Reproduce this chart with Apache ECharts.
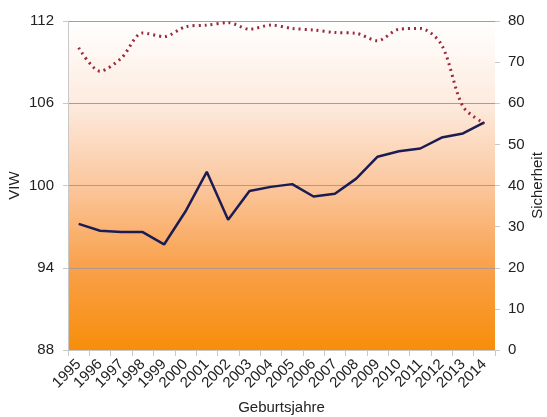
<!DOCTYPE html>
<html><head><meta charset="utf-8">
<script src="https://cdn.jsdelivr.net/npm/echarts@6/dist/echarts.min.js"></script>
<style>html,body{margin:0;padding:0;background:#fff}#c{width:547px;height:417px}</style>
</head><body><div id="c"></div>
<script>
const years = ['1995','1996','1997','1998','1999','2000','2001','2002','2003','2004','2005','2006','2007','2008','2009','2010','2011','2012','2013','2014'];
const viw = [97.2,96.7,96.6,96.6,95.7,98.1,101.0,97.5,99.6,99.9,100.1,99.2,99.4,100.5,102.1,102.5,102.7,103.5,103.8,104.6];
const sicherheit = [73.5,67.8,71.0,77.1,76.2,78.6,79.0,79.6,78.0,79.0,78.2,77.8,77.2,77.0,75.2,78.0,78.2,74.2,59.2,55.1];
const font = 'Liberation Sans, Arial, sans-serif';
const chart = echarts.init(document.getElementById('c'));
chart.setOption({
  animation:false,
  grid:{left:68,right:52,top:21,bottom:67,show:true,borderWidth:0,containLabel:false,outerBoundsMode:'none',
    backgroundColor:{type:'linear',x:0,y:0,x2:0,y2:1,colorStops:[
      {offset:0,color:'#ffffff'},{offset:0.25,color:'#fdebdf'},{offset:0.5,color:'#fbc79e'},
      {offset:0.75,color:'#f9a04a'},{offset:1,color:'#f78e0a'}]}},
  xAxis:{type:'category',data:years,boundaryGap:true,
    axisLine:{show:true,lineStyle:{color:'#c8c8c8'}},
    axisTick:{show:true,length:6,lineStyle:{color:'#c8c8c8'}},
    axisLabel:{rotate:45,fontSize:15,color:'#222',fontFamily:font,margin:12,interval:0},
    name:'Geburtsjahre',nameLocation:'middle',nameGap:50,nameMoveOverlap:false,
    nameTextStyle:{fontSize:15,color:'#222',fontFamily:font}},
  yAxis:[
    {type:'value',min:88,max:112,interval:6,position:'left',
     axisLine:{show:true,lineStyle:{color:'#c8c8c8'}},
     axisTick:{show:true,length:5,lineStyle:{color:'#c8c8c8'}},
     axisLabel:{fontSize:15,color:'#222',fontFamily:font,margin:14},
     splitLine:{show:true,lineStyle:{color:'#b09a8a',width:1}},
     name:'VIW',nameLocation:'middle',nameGap:46,nameMoveOverlap:false,
     nameTextStyle:{fontSize:15,color:'#222',fontFamily:font}},
    {type:'value',min:0,max:80,interval:10,position:'right',
     axisLine:{show:false},
     axisTick:{show:true,length:5,lineStyle:{color:'#c8c8c8'}},
     axisLabel:{fontSize:15,color:'#222',fontFamily:font,margin:13},
     splitLine:{show:false},
     name:'Sicherheit',nameLocation:'middle',nameGap:35,nameMoveOverlap:false,
     nameTextStyle:{fontSize:15,color:'#222',fontFamily:font}}
  ],
  series:[
    {type:'line',yAxisIndex:0,data:viw,showSymbol:false,
     lineStyle:{color:'#1c1c55',width:2.5},itemStyle:{color:'#1c1c55'}},
    {type:'line',yAxisIndex:1,data:sicherheit,showSymbol:false,smooth:0.3,
     lineStyle:{color:'#9b2a3c',width:3,type:[2,4]},itemStyle:{color:'#9b2a3c'}}
  ]
});
</script></body></html>
